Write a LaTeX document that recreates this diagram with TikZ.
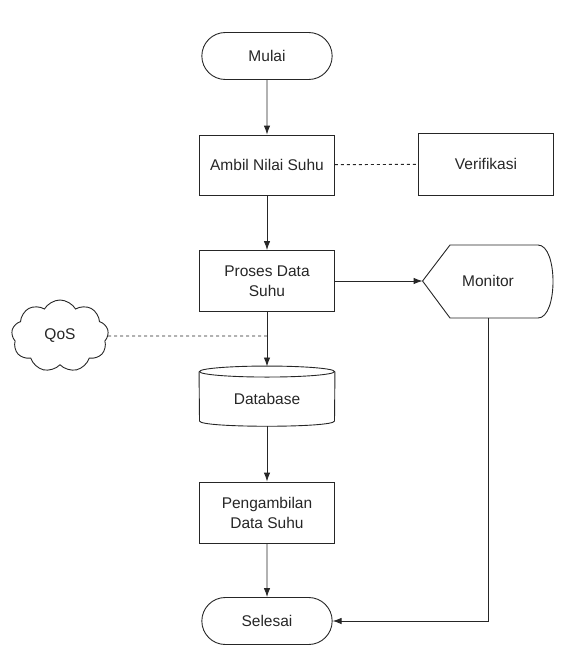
\documentclass[tikz,border=0pt]{standalone}
\usepackage{fontspec}
\setmainfont{Liberation Sans}
\usetikzlibrary{shapes.misc,shapes.symbols,arrows.meta}
\begin{document}
\begin{tikzpicture}[x=1pt,y=-1pt,line width=0.9pt,color=black!85,
   every node/.style={font=\fontsize{15.5}{20}\selectfont},
   box/.style={draw,rectangle,minimum width=135pt,minimum height=60pt,align=center,inner sep=2pt},
   term/.style={draw,rounded rectangle,minimum width=137pt,minimum height=47pt},
   arr/.style={-{Latex[length=9pt,width=6.5pt]}}]
   \useasboundingbox (0,0) rectangle (560,645);

   \node[term] (mulai) at (267,56) {Mulai};
   \node[box] (ambil) at (267,165) {Ambil Nilai Suhu};
   \node[box,minimum height=62pt] (verif) at (486,164) {Verifikasi};
   \node[box,minimum height=61pt] (proses) at (267,281) {Proses Data\\Suhu};
   \node[draw,cloud,cloud puffs=9,cloud puff arc=120,aspect=1.4,
      minimum width=97pt,minimum height=72pt,inner sep=0pt] (qos) at (60,336) {QoS};
   \node[minimum width=135pt,minimum height=54pt] (db) at (267,399) {Database};
   \node[box,minimum height=61pt] (ambilan) at (267,512.5) {Pengambilan\\Data Suhu};
   \node[term] (selesai) at (267,621) {Selesai};
   \node[minimum width=130pt,minimum height=73pt] (monitor) at (488,281) {Monitor};
   \coordinate (dbtop) at (267,366.5);
   \coordinate (join) at (267,336);

   % database and monitor outlines
   \draw (db.north) ellipse [x radius=67.5, y radius=5.5];
   \draw (db.north west) -- (199.5,421) .. controls (199.5,428) and (334.5,428) .. (334.5,421) -- (db.north east);
   \draw (monitor.west) -- (450,245) -- (538,245) .. controls (558,245) and (558,318) .. (538,318) -- (450,318) -- cycle;

   \draw[arr] (mulai) -- (ambil);
   \draw[dashed] (ambil) -- (verif);
   \draw[arr] (ambil) -- (proses);
   \draw[arr] (proses) -- (monitor);
   \draw[arr] (proses) -- (dbtop);
   \draw[dashed] (qos) -- (join);
   \draw[arr] (db) -- (ambilan);
   \draw[arr] (ambilan) -- (selesai);
   \draw[arr] (monitor.south) |- (selesai);
\end{tikzpicture}
\end{document}
